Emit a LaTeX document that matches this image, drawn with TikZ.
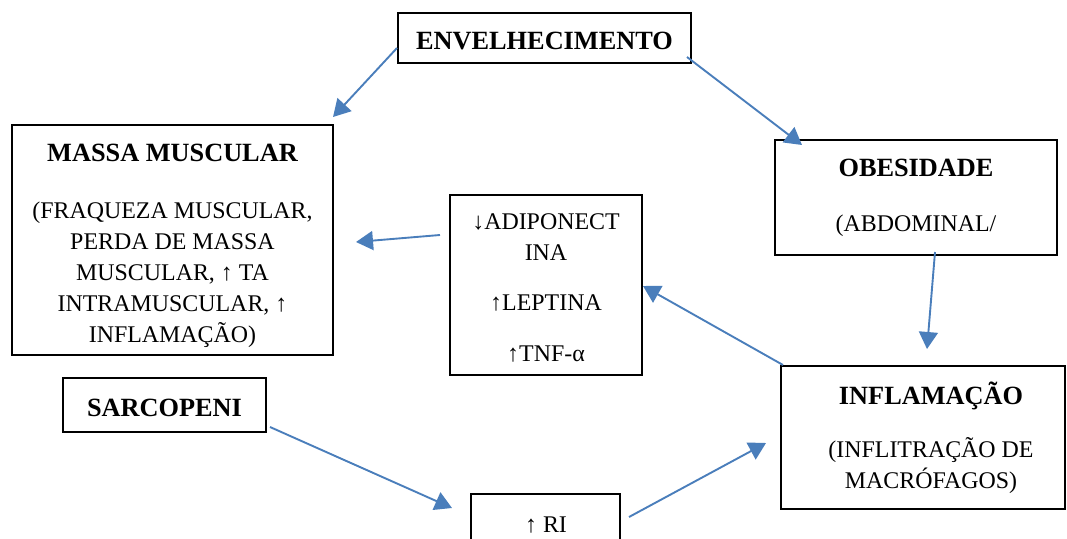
\documentclass[tikz,border=0pt]{standalone}
\usepackage{fontspec}
\setmainfont{Liberation Serif}
\usetikzlibrary{arrows.meta}
\definecolor{arrblue}{RGB}{74,126,187}
\tikzset{
  box/.style={draw=black, line width=1.8pt, rectangle, inner sep=0pt},
  ttl/.style={font=\fontsize{26.3}{30}\selectfont\bfseries, inner sep=0pt, anchor=base},
  txt/.style={font=\fontsize{23.9}{31}\selectfont, inner sep=0pt, anchor=base, align=center},
  conn/.style={draw=arrblue, line width=1.9pt, -{Triangle[length=17pt,width=19pt]}}
}
\begin{document}
\begin{tikzpicture}[x=1pt,y=-1pt]
\useasboundingbox (0,0) rectangle (1067,538);
% boxes
\node[box, minimum width=293pt, minimum height=50pt] (env) at (544.5,38) {};
\node[box, minimum width=321pt, minimum height=230pt] (mm) at (172.5,240) {};
\node[box, minimum width=282pt, minimum height=115pt] (ob) at (916,197.5) {};
\node[box, minimum width=192pt, minimum height=180pt] (mid) at (546,285) {};
\node[box, minimum width=203pt, minimum height=54pt] (sar) at (164.5,405) {};
\node[box, minimum width=284pt, minimum height=143pt] (inf) at (923,437.5) {};
\node[box, minimum width=149pt, minimum height=70pt] (ri) at (545.5,529) {};
% texts
\node[ttl] (tenv) at (544.5,49) {ENVELHECIMENTO};
\node[ttl] (tmm) at (172.5,161) {MASSA MUSCULAR};
\node[txt] (bmm) at (172.5,342) {(FRAQUEZA MUSCULAR,\\PERDA DE MASSA\\MUSCULAR, ↑ TA\\INTRAMUSCULAR, ↑\\INFLAMAÇÃO)};
\node[ttl] (tob) at (916,176) {OBESIDADE};
\node[txt] (bob) at (916,231) {(ABDOMINAL/};
\node[txt] (bmid1) at (546,260) {↓ADIPONECT\\INA};
\node[txt] (bmid2) at (546,310) {↑LEPTINA};
\node[txt] (bmid3) at (546,361) {↑TNF-α};
\node[ttl] (tsar) at (164.5,416) {SARCOPENI};
\node[ttl] (tinf) at (931,404) {INFLAMAÇÃO};
\node[txt] (binf) at (931,488) {(INFLITRAÇÃO DE\\MACRÓFAGOS)};
\node[txt] (tri) at (546,532) {↑ RI};
% connector ends
\coordinate (a1s) at (397,48);  \coordinate (a1e) at (333,117);
\coordinate (a2s) at (687,57);  \coordinate (a2e) at (802,145);
\coordinate (a3s) at (935,252); \coordinate (a3e) at (927,349);
\coordinate (a4s) at (440,235); \coordinate (a4e) at (356,242);
\coordinate (a5s) at (783,365); \coordinate (a5e) at (643,286);
\coordinate (a6s) at (270,427); \coordinate (a6e) at (452,508);
\coordinate (a7s) at (629,517); \coordinate (a7e) at (766,443);
\draw[conn] (a1s) -- (a1e);
\draw[conn] (a2s) -- (a2e);
\draw[conn] (a3s) -- (a3e);
\draw[conn] (a4s) -- (a4e);
\draw[conn] (a5s) -- (a5e);
\draw[conn] (a6s) -- (a6e);
\draw[conn] (a7s) -- (a7e);
\end{tikzpicture}
\end{document}
